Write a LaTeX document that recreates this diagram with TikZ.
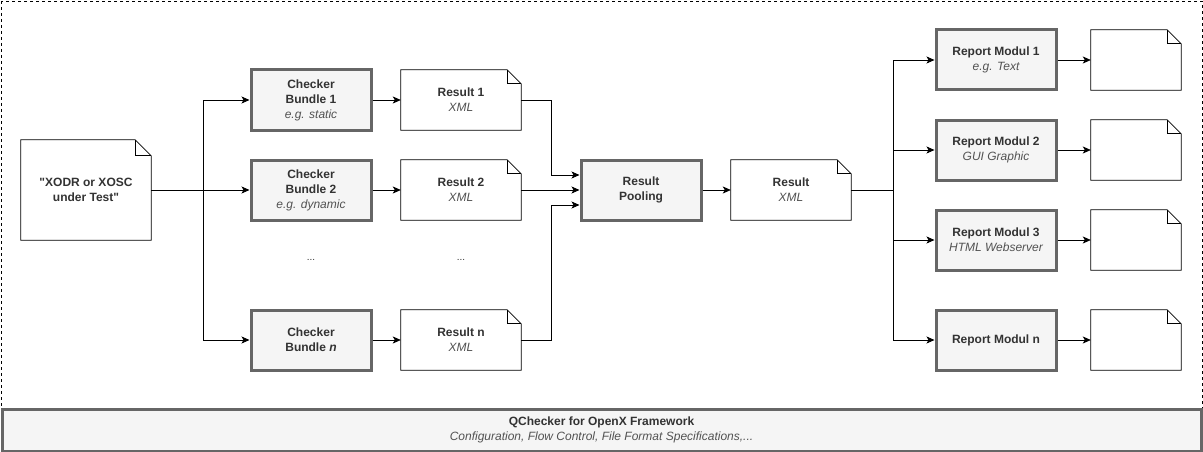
\documentclass[tikz,border=0pt]{standalone}
\usepackage{fontspec}
\setmainfont{Liberation Sans}[Ligatures=TeXOff]
\usetikzlibrary{arrows.meta}
\definecolor{boxfill}{HTML}{F5F5F5}
\definecolor{boxline}{HTML}{666666}
\definecolor{txt}{HTML}{333333}
\tikzset{
  lbl/.style={align=center, text=txt, font=\fontsize{12}{15}\selectfont\bfseries},
  bundle/.style={lbl, draw=boxline, line width=3pt, fill=boxfill, minimum width=120pt, minimum height=60pt, inner sep=0pt},
  docnode/.style={lbl, minimum width=120pt, minimum height=60pt, inner sep=0pt},
  dots/.style={text=txt, font=\fontsize{10}{12}\selectfont},
  flow/.style={-{Stealth[length=8pt,width=7pt,inset=2pt]}, line width=0.8pt},
  wire/.style={line width=0.8pt},
}
% dog-ear outline round a named node
\newcommand{\dogear}[2][14pt]{%
  \draw[line width=0.8pt, fill=white] (#2.south west) -- (#2.north west) -- ([xshift=-#1]#2.north east)
    -- ([yshift=-#1]#2.north east) -- (#2.south east) -- cycle;
  \draw[line width=0.8pt] ([xshift=-#1]#2.north east) |- ([yshift=-#1]#2.north east);
}
\newcommand{\sub}[1]{\\\mdseries\itshape\color{txt!85} #1}
\begin{document}
\begin{tikzpicture}[x=1pt, y=-1pt]
  \useasboundingbox (0,0) rectangle (1203,452);
  \draw[dashed, line width=0.6pt] (1,1) rectangle (1202,451);

  % documents (outlines first, text on top)
  \node[docnode, minimum width=130pt, minimum height=100pt] (input) at (86,190) {};
  \node[docnode] (res1) at (461,100) {};
  \node[docnode] (res2) at (461,190) {};
  \node[docnode] (resn) at (461,340) {};
  \node[docnode] (result) at (791,190) {};
  \node[docnode, minimum width=90pt] (out1) at (1136,60) {};
  \node[docnode, minimum width=90pt] (out2) at (1136,150) {};
  \node[docnode, minimum width=90pt] (out3) at (1136,240) {};
  \node[docnode, minimum width=90pt] (outn) at (1136,340) {};
  \dogear[16pt]{input}
  \dogear{res1} \dogear{res2} \dogear{resn} \dogear{result}
  \dogear{out1} \dogear{out2} \dogear{out3} \dogear{outn}
  \node[lbl] at (input) {"XODR or XOSC\\under Test"};
  \node[lbl] at (res1) {Result 1\sub{XML}};
  \node[lbl] at (res2) {Result 2\sub{XML}};
  \node[lbl] at (resn) {Result n\sub{XML}};
  \node[lbl] at (result) {Result\sub{XML}};

  % checker bundles
  \node[bundle] (cb1) at (311,100) {Checker\\Bundle 1\sub{e.g. static}};
  \node[bundle] (cb2) at (311,190) {Checker\\Bundle 2\sub{e.g. dynamic}};
  \node[bundle] (cbn) at (311,340) {Checker\\Bundle \textit{n}};
  \node[dots] (dots1) at (311,260) {...};
  \node[dots] (dots2) at (461,260) {...};

  \node[bundle] (pool) at (641,190) {Result\\Pooling};

  % report moduls
  \node[bundle] (rm1) at (996,60) {Report Modul 1\sub{e.g. Text}};
  \node[bundle] (rm2) at (996,150) {Report Modul 2\sub{GUI Graphic}};
  \node[bundle] (rm3) at (996,240) {Report Modul 3\sub{HTML Webserver}};
  \node[bundle] (rmn) at (996,340) {Report Modul n};

  \node[bundle, minimum width=1199pt, minimum height=42pt] (frame) at (601.5,430)
    {QChecker for OpenX Framework\sub{Configuration, Flow Control, File Format Specifications,...}};

  % connectors
  \coordinate (split) at (203,190);
  \coordinate (join) at (893,190);
  \draw[flow] (input.east) -- (cb2.west);
  \draw[flow] (split) |- (cb1.west);
  \draw[flow] (split) |- (cbn.west);
  \draw[flow] (cb1) -- (res1);
  \draw[flow] (cb2) -- (res2);
  \draw[flow] (cbn) -- (resn);
  \draw[flow] (res1.east) -- ++(30,0) |- ([yshift=15pt]pool.west);
  \draw[flow] (res2.east) -- (pool.west);
  \draw[flow] (resn.east) -- ++(30,0) |- ([yshift=-15pt]pool.west);
  \draw[flow] (pool) -- (result);
  \draw[wire] (result.east) -- (join);
  \draw[flow] (join) |- (rm1.west);
  \draw[flow] (join) |- (rm2.west);
  \draw[flow] (join) |- (rm3.west);
  \draw[flow] (join) |- (rmn.west);
  \draw[flow] (rm1) -- (out1);
  \draw[flow] (rm2) -- (out2);
  \draw[flow] (rm3) -- (out3);
  \draw[flow] (rmn) -- (outn);
\end{tikzpicture}
\end{document}
